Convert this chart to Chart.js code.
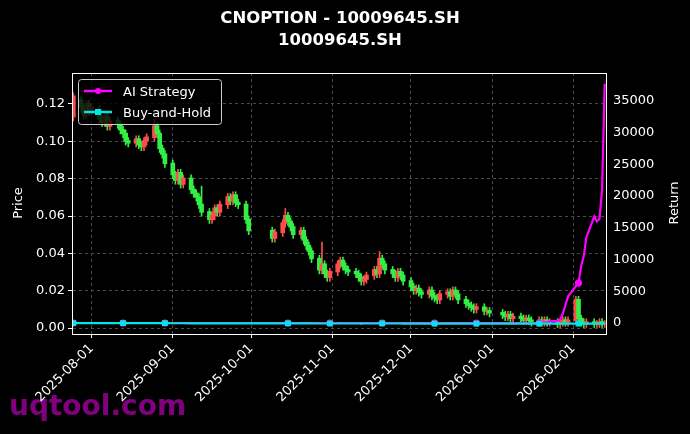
<!DOCTYPE html>
<html><head><meta charset="utf-8">
<script src="https://cdn.jsdelivr.net/npm/chart.js@4"></script>
<style>html,body{margin:0;background:#000}#w{width:690px;height:434px}</style>
</head><body><div id="w"><canvas id="c"></canvas></div>
<script>
const dates = ['2025-07-25','2025-07-28','2025-07-29','2025-07-30','2025-07-31',
'2025-08-01','2025-08-04','2025-08-05','2025-08-06','2025-08-07','2025-08-08','2025-08-11','2025-08-12','2025-08-13','2025-08-14','2025-08-15','2025-08-18','2025-08-19','2025-08-20','2025-08-21','2025-08-22','2025-08-25','2025-08-26','2025-08-27','2025-08-28','2025-08-29',
'2025-09-01','2025-09-02','2025-09-03','2025-09-04','2025-09-05','2025-09-08','2025-09-09','2025-09-10','2025-09-11','2025-09-12','2025-09-15','2025-09-16','2025-09-17','2025-09-18','2025-09-19','2025-09-22','2025-09-23','2025-09-24','2025-09-25','2025-09-26','2025-09-29','2025-09-30',
'2025-10-09','2025-10-10','2025-10-13','2025-10-14','2025-10-15','2025-10-16','2025-10-17','2025-10-20','2025-10-21','2025-10-22','2025-10-23','2025-10-24','2025-10-27','2025-10-28','2025-10-29','2025-10-30','2025-10-31',
'2025-11-03','2025-11-04','2025-11-05','2025-11-06','2025-11-07','2025-11-10','2025-11-11','2025-11-12','2025-11-13','2025-11-14','2025-11-17','2025-11-18','2025-11-19','2025-11-20','2025-11-21','2025-11-24','2025-11-25','2025-11-26','2025-11-27','2025-11-28',
'2025-12-01','2025-12-02','2025-12-03','2025-12-04','2025-12-05','2025-12-08','2025-12-09','2025-12-10','2025-12-11','2025-12-12','2025-12-15','2025-12-16','2025-12-17','2025-12-18','2025-12-19','2025-12-22','2025-12-23','2025-12-24','2025-12-25','2025-12-26','2025-12-29','2025-12-30','2025-12-31',
'2026-01-05','2026-01-06','2026-01-07','2026-01-08','2026-01-09','2026-01-12','2026-01-13','2026-01-14','2026-01-15','2026-01-16','2026-01-19','2026-01-20','2026-01-21','2026-01-22','2026-01-23','2026-01-26','2026-01-27','2026-01-28','2026-01-29','2026-01-30',
'2026-02-02','2026-02-03','2026-02-04','2026-02-05','2026-02-06','2026-02-09','2026-02-10','2026-02-11','2026-02-12','2026-02-13'];
const opens = [.113,.122,.118,.114,.120,
.116,.117,.112,.110,.113,.108,.111,.109,.106,.104,.100,.099,.101,.098,.097,.100,.102,.108,.104,.096,.093,
.088,.082,.079,.083,.077,.080,.074,.072,.070,.066,.062,.058,.060,.064,.062,.066,.070,.068,.071,.067,.066,.058,
.052,.048,.051,.056,.060,.057,.054,.050,.052,.047,.044,.041,.037,.031,.034,.029,.027,
.030,.034,.036,.033,.031,.030,.029,.027,.025,.026,.028,.031,.029,.037,.034,.031,.029,.027,.030,.028,
.025,.022,.020,.021,.019,.018,.020,.017,.016,.015,.018,.019,.017,.020,.018,.015,.013,.012,.011,.010,.011,.009,.009,
.008,.007,.006,.007,.005,.006,.005,.004,.005,.004,.003,.004,.003,.004,.003,.003,.002,.003,.004,.003,
.004,.015,.005,.003,.002,.003,.002,.002,.003,.002];
const closes = [.124,.118,.114,.120,.116,
.118,.112,.110,.113,.108,.111,.109,.106,.104,.100,.099,.101,.098,.097,.100,.102,.108,.104,.096,.093,.088,
.082,.079,.083,.077,.080,.074,.072,.070,.066,.062,.058,.060,.064,.062,.066,.070,.068,.071,.067,.066,.058,.052,
.048,.051,.056,.060,.057,.054,.050,.052,.047,.044,.041,.037,.031,.034,.029,.027,.030,
.034,.036,.033,.031,.030,.029,.027,.025,.026,.028,.031,.029,.037,.034,.031,.029,.027,.030,.028,.025,
.022,.020,.021,.019,.018,.020,.017,.016,.015,.018,.019,.017,.020,.018,.015,.013,.012,.011,.010,.011,.009,.009,.008,
.007,.006,.007,.005,.006,.005,.004,.005,.004,.003,.004,.003,.004,.003,.003,.002,.003,.004,.003,.004,
.015,.005,.003,.002,.003,.002,.002,.003,.002,.002];
const spikeHighs = {'2025-08-25':.112,'2025-09-12':.076,'2025-10-14':.064,'2025-10-28':.046,'2025-11-19':.041,'2025-12-18':.022,'2026-02-02':.017};
const aiReturn = {'2026-01-21':100,'2026-01-22':150,'2026-01-23':250,'2026-01-26':350,'2026-01-27':600,'2026-01-28':1500,'2026-01-29':2800,'2026-01-30':4200,
'2026-02-02':5800,'2026-02-03':6300,'2026-02-04':9000,'2026-02-05':10500,'2026-02-06':13500,'2026-02-09':16800,'2026-02-10':16000,'2026-02-11':16400,'2026-02-12':21000,'2026-02-13':37700};
const markerDates = ['2025-07-25','2025-08-13','2025-08-29','2025-10-15','2025-10-31','2025-11-20','2025-12-10','2025-12-26','2026-01-19','2026-02-03'];
const tickDates = ['2025-08-01','2025-09-01','2025-10-01','2025-11-01','2025-12-01','2026-01-01','2026-02-01'];

const DAY=86400000;
const dnum = s => Date.parse(s+'T00:00:00Z')/DAY;
const fmt = v => new Date(v*DAY).toISOString().slice(0,10);
const UP='#ff4d4d', DN='#33ee44';
const wick=[],body=[],wc=[],bc=[],ai=[],bh=[];
dates.forEach((d,i)=>{
  const x=dnum(d),o=opens[i],c=closes[i];
  const hi=spikeHighs[d]??Math.max(o,c)+0.002, lo=Math.min(o,c)-0.002;
  const col=c>=o?UP:DN;
  wick.push({x,y:[lo,hi]}); body.push({x,y:[Math.min(o,c),Math.max(o,c)+0.0004]});
  wc.push(col); bc.push(col);
  ai.push({x,y:aiReturn[d]??0});
  bh.push({x,y:(c/closes[0]-1)*100});
});
const mk = ctx => markerDates.includes(dates[ctx.dataIndex])?2.5:0;
const F='"DejaVu Sans"';

new Chart(document.getElementById('c'),{
 data:{datasets:[
  {type:'bar',data:wick,backgroundColor:wc,barThickness:1,grouped:false,yAxisID:'y',order:4},
  {type:'bar',data:body,backgroundColor:bc,barThickness:4,grouped:false,yAxisID:'y',order:3},
  {type:'line',label:'AI Strategy',data:ai,borderColor:'#ff00ff',backgroundColor:'#ff00ff',borderWidth:2.2,pointRadius:mk,yAxisID:'y1',order:1},
  {type:'line',label:'Buy-and-Hold',data:bh,borderColor:'#00e5e5',backgroundColor:'#00e5e5',borderWidth:2.2,pointRadius:mk,pointStyle:'rect',yAxisID:'y1',order:0}
 ]},
 options:{responsive:true,maintainAspectRatio:false,animation:false,
  layout:{padding:{top:73,left:0,right:0,bottom:0}},
  plugins:{legend:{display:false},tooltip:{enabled:false}},
  scales:{
   x:{type:'linear',offset:false,min:dnum('2025-07-25')-0.5,max:dnum('2026-02-13')+0.5,
     afterBuildTicks:s=>{s.ticks=tickDates.map(d=>({value:dnum(d)}));},
     afterFit:s=>{s.height=100;},
     ticks:{color:'#fff',font:{family:F,size:13},minRotation:45,maxRotation:45,callback:v=>fmt(v)},
     grid:{offset:false,color:'#4a4a4a',tickColor:'#fff',tickLength:4},border:{color:'#fff',dash:[3,3]}},
   y:{position:'left',min:-0.0032,max:0.1366,
     afterBuildTicks:s=>{s.ticks=[0,.02,.04,.06,.08,.1,.12].map(v=>({value:v}));},
     afterFit:s=>{s.width=72;},
     ticks:{color:'#fff',font:{family:F,size:13},callback:v=>v.toFixed(2)},
     grid:{color:'#4a4a4a',tickColor:'#fff',tickLength:4},border:{color:'#fff',dash:[3,3]}},
   y1:{position:'right',min:-1730,max:39400,
     afterBuildTicks:s=>{s.ticks=[0,5000,10000,15000,20000,25000,30000,35000].map(v=>({value:v}));},
     afterFit:s=>{s.width=84;},
     ticks:{color:'#fff',font:{family:F,size:13},callback:v=>String(v)},
     grid:{display:false,tickColor:'#fff',tickLength:4},border:{color:'#fff'}}
  }},
 plugins:[{id:'deco',
  beforeDraw:c=>{const g=c.ctx;g.save();g.fillStyle='#000';g.fillRect(0,0,c.width,c.height);
   g.fillStyle='#800080';g.font='bold 28px '+F;g.textAlign='left';g.fillText('uqtool.com',9,415);
   g.restore();},
  afterDraw:c=>{const g=c.ctx,a=c.chartArea;g.save();
   g.strokeStyle='#fff';g.lineWidth=1;g.strokeRect(a.left+0.5,a.top+0.5,a.right-a.left,a.bottom-a.top);
   g.fillStyle='#fff';g.textAlign='center';g.font='bold 16.5px '+F;
   g.fillText('CNOPTION - 10009645.SH',340,23);g.fillText('10009645.SH',340,45);
   g.font='13px '+F;
   g.save();g.translate(22,203);g.rotate(-Math.PI/2);g.fillText('Price',0,0);g.restore();
   g.save();g.translate(678,203);g.rotate(-Math.PI/2);g.fillText('Return',0,0);g.restore();
   g.fillStyle='rgba(0,0,0,0.8)';g.strokeStyle='#ccc';g.lineWidth=1;
   g.beginPath();g.roundRect(78.5,79.5,143,45,3);g.fill();g.stroke();
   const items=[['AI Strategy','#ff00ff',91,0],['Buy-and-Hold','#00e5e5',112,1]];
   items.forEach(([t,col,y,sq])=>{g.strokeStyle=col;g.lineWidth=2.5;g.beginPath();g.moveTo(84,y);g.lineTo(112,y);g.stroke();
    g.fillStyle=col;if(sq)g.fillRect(95,y-3,6,6);else{g.beginPath();g.arc(98,y,3,0,7);g.fill();}
    g.fillStyle='#fff';g.textAlign='left';g.font='13px '+F;g.fillText(t,123,y+5);});
   g.restore();}
 }]
});
</script></body></html>
